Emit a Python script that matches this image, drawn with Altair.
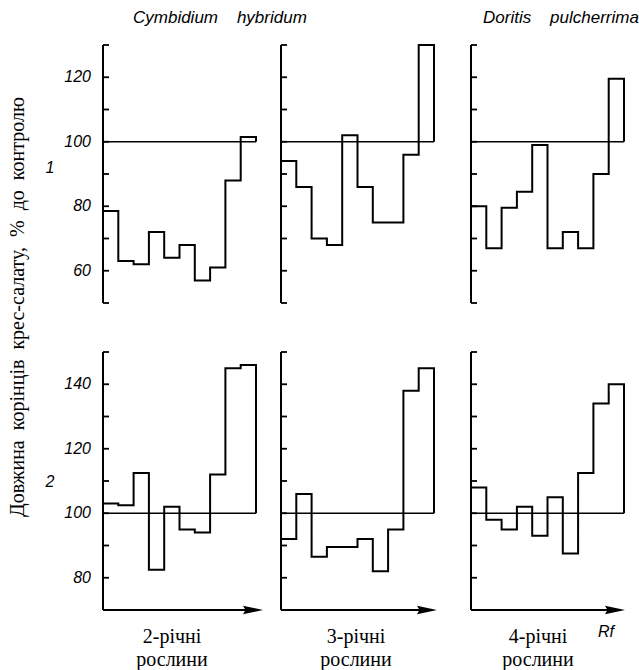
import altair as alt
import pandas as pd

# Root length of cress seedlings (% of control) in 10 successive Rf zones
rf_zone = list(range(10))

cymb2_row1 = [78.5, 63, 62, 72, 64, 68, 57, 61, 88, 101.5]
cymb3_row1 = [94, 86, 70, 68, 102, 86, 75, 75, 96, 130]
dor4_row1 = [80, 67, 79.5, 84.5, 99, 67, 72, 67, 90, 119.5]

cymb2_row2 = [103, 102.5, 112.5, 82.5, 102, 95, 94, 112, 145, 146]
cymb3_row2 = [92, 106, 86.5, 89.5, 89.5, 92, 82, 95, 138, 145]
dor4_row2 = [108, 98, 95, 102, 93, 105, 87.5, 112.5, 134, 140]

control = 100

row1_domain = [50, 130]
row1_ticks = [50, 60, 70, 80, 90, 100, 110, 120, 130]
row1_labels = [60, 80, 100, 120]

row2_domain = [70, 150]
row2_ticks = [80, 90, 100, 110, 120, 130, 140, 150]
row2_labels = [80, 100, 120, 140]

species = ["Cymbidium\u00a0\u00a0\u00a0\u00a0hybridum", "Doritis\u00a0\u00a0\u00a0\u00a0pulcherrima"]
ages = [["2-річні", "рослини"], ["3-річні", "рослини"], ["4-річні", "рослини"]]
row_names = ["1", "2"]
y_title = "Довжина\u00a0\u00a0корінців\u00a0\u00a0крес-салату,\u00a0\u00a0%\u00a0\u00a0до\u00a0\u00a0контролю"

PANEL_H = 258
BIN_PX = 15.3
COL_W = [168, 180, 160]
ARROW = [160, 156, 154]
SANS = "Liberation Sans"
SERIF = "Liberation Serif"

XS = alt.Scale(domain=[0, 10], range=[0, 10 * BIN_PX], nice=False)


def panel(values, domain, ticks, width):
    ys = alt.Scale(domain=domain, nice=False, zero=False)
    steps = pd.DataFrame({"rf": rf_zone + [len(rf_zone)], "v": values + [control]})
    line = alt.Chart(steps).mark_line(
        interpolate="step-after", color="black", strokeWidth=2
    ).encode(
        x=alt.X("rf:Q", scale=XS, axis=None),
        y=alt.Y("v:Q", scale=ys, axis=None),
    )
    ref = alt.Chart(pd.DataFrame({"a": [0], "b": [len(rf_zone)], "v": [control]})).mark_rule(
        color="black", strokeWidth=1.6
    ).encode(
        x=alt.X("a:Q", scale=XS, axis=None),
        x2="b:Q",
        y=alt.Y("v:Q", scale=ys, axis=None),
    )
    yaxis = alt.Chart(pd.DataFrame({"lo": [domain[0]], "hi": [domain[1]]})).mark_rule(
        color="black", strokeWidth=2
    ).encode(
        x=alt.value(0),
        y=alt.Y("lo:Q", scale=ys, axis=None),
        y2="hi:Q",
    )
    tick_marks = alt.Chart(pd.DataFrame({"t": ticks})).mark_rule(
        color="black", strokeWidth=1.8
    ).encode(
        x=alt.value(0),
        x2=alt.value(6),
        y=alt.Y("t:Q", scale=ys, axis=None),
    )
    return [ref, line, yaxis, tick_marks], ys


def tick_labels(labels, ys):
    return alt.Chart(pd.DataFrame({"t": labels})).mark_text(
        align="right", baseline="middle", font=SANS, fontStyle="italic",
        fontSize=16, color="black", dx=-12
    ).encode(
        x=alt.value(0),
        y=alt.Y("t:Q", scale=ys, axis=None),
        text="t:Q",
    )


def note(text, x, y, **kw):
    style = dict(font=SANS, fontStyle="italic", fontSize=16, color="black",
                 align="center", baseline="middle")
    style.update(kw)
    return alt.Chart(pd.DataFrame({"d": [0]})).mark_text(text=text, **style).encode(
        x=alt.value(x), y=alt.value(y)
    )


def x_arrow(domain, ys, length):
    axis = alt.Chart(pd.DataFrame({"lo": [domain[0]]})).mark_rule(
        color="black", strokeWidth=2
    ).encode(
        x=alt.value(0), x2=alt.value(length - 12),
        y=alt.Y("lo:Q", scale=ys, axis=None),
    )
    head = alt.Chart(pd.DataFrame({"lo": [domain[0]]})).mark_point(
        shape="M-1,-0.42L1,0L-1,0.42L-0.75,0Z", filled=True, opacity=1,
        color="black", size=400, strokeWidth=0
    ).encode(
        x=alt.value(length - 10),
        y=alt.Y("lo:Q", scale=ys, axis=None),
    )
    return [axis, head]


panels = []

# Row 1
row1 = [cymb2_row1, cymb3_row1, dor4_row1]
for c, vals in enumerate(row1):
    layers, ys = panel(vals, row1_domain, row1_ticks, COL_W[c])
    if c == 0:
        layers.append(tick_labels(row1_labels, ys))
        layers.append(note(row_names[0], -53, 123))
        layers.append(note(species[0], 30, -27, align="left", fontSize=17))
        layers.append(note(y_title, -85, 262, font=SERIF, fontStyle="normal",
                           fontSize=20, angle=270))
        # page frame
        layers.append(
            alt.Chart(pd.DataFrame({"d": [0]})).mark_rect(opacity=0).encode(
                x=alt.value(-103), x2=alt.value(639 - 103),
                y=alt.value(-45), y2=alt.value(670 - 45),
            )
        )
    if c == 2:
        layers.append(note(species[1], 12, -27, align="left", fontSize=17))
    panels.append(alt.layer(*layers).properties(width=COL_W[c], height=PANEL_H))

# Row 2
row2 = [cymb2_row2, cymb3_row2, dor4_row2]
age_x = [69, 75, 67]
for c, vals in enumerate(row2):
    layers, ys = panel(vals, row2_domain, row2_ticks, COL_W[c])
    layers += x_arrow(row2_domain, ys, ARROW[c])
    layers.append(note(ages[c], age_x[c], 285, font=SERIF, fontStyle="normal",
                       fontSize=20, lineHeight=23))
    if c == 0:
        layers.append(tick_labels(row2_labels, ys))
        layers.append(note(row_names[1], -53, 130))
    if c == 2:
        layers.append(note("Rf", 135, 280))
    panels.append(alt.layer(*layers).properties(width=COL_W[c], height=PANEL_H))

chart = alt.concat(
    *panels, columns=3, spacing={"row": 49, "column": 10}, bounds="flush"
).properties(padding=0).configure_view(stroke=None)

chart.save("out.html", embed_options={"renderer": "svg", "actions": False})
